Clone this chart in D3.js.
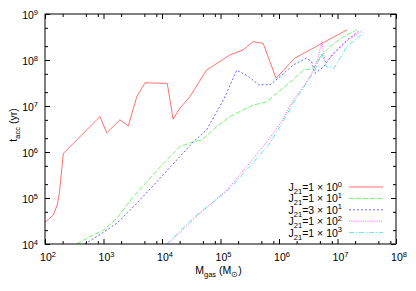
<!DOCTYPE html>
<html>
<head>
<meta charset="utf-8">
<script src="https://cdn.jsdelivr.net/npm/d3@7"></script>
<style>
  body { margin: 0; background: #fff; }
  svg { display: block; font-family: "Liberation Sans", Arial, sans-serif; }
</style>
</head>
<body>
<div id="chart"></div>
<script>
// series: gas mass (Msun) and accretion time (yr)
const red_m = [100, 139, 162, 175, 206, 871, 1135, 1905, 2655, 3715, 5130, 1.23e4, 1.55e4, 2.04e4, 3.0e4, 5.75e4, 1.45e5, 2.43e5, 3.63e5, 5.37e5, 8.9e5, 1.86e6, 3.39e6, 5.75e6, 1.45e7]
const red_t = [2.95e4, 4.3e4, 7.1e4, 1.2e5, 9.3e5, 5.9e6, 2.6e6, 5.0e6, 3.7e6, 1.6e7, 3.2e7, 3.1e7, 5.2e6, 9.1e6, 1.6e7, 6.0e7, 1.29e8, 1.66e8, 2.5e8, 2.3e8, 4.0e7, 1.1e8, 1.66e8, 2.4e8, 4.5e8]

const green_m = [347, 589, 1000, 1683, 3200, 1.05e4, 2.04e4, 3.43e4, 4.79e4, 8.6e4, 1.45e5, 3.63e5, 6.17e5, 9.1e5, 1.74e6, 2.6e6, 3.9e6, 5.4e6, 7.4e6, 1.26e7, 2.14e7]
const green_t = [1e4, 1.45e4, 2.0e4, 3.6e4, 1.05e5, 5.6e5, 1.32e6, 1.66e6, 1.82e6, 3.55e6, 5.9e6, 1.05e7, 1.23e7, 1.9e7, 3.7e7, 6.0e7, 6.6e7, 1.29e8, 1.95e8, 3.2e8, 4.5e8]

const blue_m = [479, 766, 1683, 3690, 1.05e4, 3.43e4, 5.75e4, 1.12e5, 1.9e5, 2.99e5, 4.47e5, 7.1e5, 1.05e6, 1.76e6, 2.95e6, 3.63e6, 4.1e6, 5.75e6, 8.5e6, 1.45e7, 2.29e7]
const blue_t = [1e4, 1.45e4, 2.8e4, 7.6e4, 3.2e5, 1.66e6, 3.0e6, 1.35e7, 6.0e7, 4.4e7, 2.9e7, 2.9e7, 4.4e7, 7.8e7, 1.1e8, 9.1e7, 5.1e7, 7.1e7, 1.41e8, 2.7e8, 4.2e8]

const magenta_m = [1.28e4, 3.98e4, 1.28e5, 2.95e5, 6.56e5, 1.12e6, 1.76e6, 2.6e6, 3.89e6, 4.65e6, 5.37e6, 6.1e6, 7.4e6, 1.1e7, 1.62e7, 2.63e7]
const magenta_t = [1e4, 4.1e4, 1.48e5, 5.2e5, 1.82e6, 4.7e6, 1.35e7, 2.6e7, 6.0e7, 1.1e8, 2.5e8, 9.1e7, 1.1e8, 1.82e8, 2.9e8, 4.3e8]

const cyan_m = [1.2e4, 3.8e4, 1.35e5, 3.1e5, 6.56e5, 1.12e6, 1.76e6, 2.6e6, 4.1e6, 5.37e6, 6.5e6, 8.7e6, 1.1e7, 1.44e7, 1.86e7, 2.95e7]
const cyan_t = [1e4, 4.1e4, 1.48e5, 4.7e5, 1.41e6, 4.1e6, 1.17e7, 2.45e7, 6.0e7, 1.41e8, 7.1e7, 6.6e7, 1.1e8, 1.95e8, 2.5e8, 4.2e8]

const legendMant = ['1', '1', '3', '1', '1']
const legendExp = ['0', '1', '1', '2', '3']

const xMajor = [1e2, 1e3, 1e4, 1e5, 1e6, 1e7, 1e8]
const yMajor = [1e4, 1e5, 1e6, 1e7, 1e8, 1e9]

const series = [
  { m: red_m, t: red_t, color: '#ff2020', dash: null },
  { m: green_m, t: green_t, color: '#22ee22', dash: '5,2' },
  { m: blue_m, t: blue_t, color: '#1010ff', dash: '2,2' },
  { m: magenta_m, t: magenta_t, color: '#ff00ff', dash: '1,1.3' },
  { m: cyan_m, t: cyan_t, color: '#00d8d8', dash: '5,2,1,2' }
]

const width = 416, height = 291
const margin = { top: 14, right: 20, bottom: 47, left: 45 }
const W = width - margin.left - margin.right
const H = height - margin.top - margin.bottom

const svg = d3.select('#chart').append('svg')
  .attr('width', width).attr('height', height)

const g = svg.append('g').attr('transform', `translate(${margin.left},${margin.top})`)

const x = d3.scaleLog().domain([1e2, 1e8]).range([0, W])
const y = d3.scaleLog().domain([1e4, 1e9]).range([H, 0])

// minor ticks
const xMinor = []
xMajor.slice(0, -1).forEach(d => [2, 5, 8].forEach(k => xMinor.push(d * k)))
const yMinor = []
yMajor.slice(0, -1).forEach(d => [2, 5].forEach(k => yMinor.push(d * k)))

const tickStyle = sel => {
  sel.select('.domain').remove()
  sel.selectAll('line').attr('stroke', '#000').attr('stroke-width', 1)
}

// inside ticks on all four sides
g.append('g').attr('transform', `translate(0,${H})`)
  .call(d3.axisBottom(x).tickValues(xMajor).tickSize(-5).tickFormat(''))
  .call(tickStyle)
g.append('g').attr('transform', `translate(0,${H})`)
  .call(d3.axisBottom(x).tickValues(xMinor).tickSize(-3).tickFormat(''))
  .call(tickStyle)
g.append('g')
  .call(d3.axisTop(x).tickValues(xMajor).tickSize(-5).tickFormat(''))
  .call(tickStyle)
g.append('g')
  .call(d3.axisTop(x).tickValues(xMinor).tickSize(-3).tickFormat(''))
  .call(tickStyle)
g.append('g')
  .call(d3.axisLeft(y).tickValues(yMajor).tickSize(-5).tickFormat(''))
  .call(tickStyle)
g.append('g')
  .call(d3.axisLeft(y).tickValues(yMinor).tickSize(-3).tickFormat(''))
  .call(tickStyle)
g.append('g').attr('transform', `translate(${W},0)`)
  .call(d3.axisRight(y).tickValues(yMajor).tickSize(-5).tickFormat(''))
  .call(tickStyle)
g.append('g').attr('transform', `translate(${W},0)`)
  .call(d3.axisRight(y).tickValues(yMinor).tickSize(-3).tickFormat(''))
  .call(tickStyle)

// tick labels 10^n
const pow = (sel, e) => {
  sel.append('tspan').text('10')
  sel.append('tspan').attr('font-size', 7.5).attr('dy', -4.5).text(e)
}

xMajor.forEach(d => {
  g.append('text')
    .attr('x', x(d) + 3).attr('y', H + 17)
    .attr('text-anchor', 'middle')
    .attr('font-size', 10.5).attr('fill', '#000')
    .call(pow, Math.round(Math.log10(d)))
})
yMajor.forEach(d => {
  g.append('text')
    .attr('x', -7).attr('y', y(d) + 5)
    .attr('text-anchor', 'end')
    .attr('font-size', 10.5).attr('fill', '#000')
    .call(pow, Math.round(Math.log10(d)))
})

// axis titles
const xt = svg.append('text')
  .attr('x', margin.left + W / 2 - 2).attr('y', 274)
  .attr('text-anchor', 'middle').attr('font-size', 10.5)
xt.append('tspan').text('M')
xt.append('tspan').attr('font-size', 7.5).attr('dy', 3).text('gas')
xt.append('tspan').attr('dy', -3).text(' (M')
xt.append('tspan').attr('font-size', 7.5).attr('dy', 3).text('⊙')
xt.append('tspan').attr('dy', -3).text(')')

const yt = svg.append('text')
  .attr('transform', `translate(17,${margin.top + H / 2 - 4}) rotate(-90)`)
  .attr('text-anchor', 'middle').attr('font-size', 10.5)
yt.append('tspan').text('t')
yt.append('tspan').attr('font-size', 7.5).attr('dy', 3).text('acc')
yt.append('tspan').attr('dy', -3).text(' (yr)')

// curves
const clip = svg.append('defs').append('clipPath').attr('id', 'plot-clip')
clip.append('rect').attr('width', W).attr('height', H)

const line = d3.line().x(d => x(d[0])).y(d => y(d[1]))

const curves = g.append('g').attr('clip-path', 'url(#plot-clip)')
series.forEach(s => {
  curves.append('path')
    .datum(s.m.map((m, i) => [m, s.t[i]]))
    .attr('d', line)
    .attr('fill', 'none')
    .attr('stroke', s.color)
    .attr('stroke-width', 0.8)
    .attr('stroke-opacity', 0.8)
    .attr('stroke-dasharray', s.dash)
})

// legend
const legend = g.append('g').attr('transform', `translate(0,${173})`)
series.forEach((s, i) => {
  const row = legend.append('g').attr('transform', `translate(0,${i * 11.4})`)
  row.append('line')
    .attr('x1', 304).attr('x2', 338)
    .attr('stroke', s.color).attr('stroke-width', 0.8)
    .attr('stroke-opacity', 0.8)
    .attr('stroke-dasharray', s.dash)
  const t = row.append('text')
    .attr('x', 297).attr('y', 4)
    .attr('text-anchor', 'end').attr('font-size', 10.5)
  t.append('tspan').text('J')
  t.append('tspan').attr('font-size', 7.5).attr('dy', 3).text('21')
  t.append('tspan').attr('dy', -3).text(`=${legendMant[i]} × 10`)
  t.append('tspan').attr('font-size', 7.5).attr('dy', -4.5).text(legendExp[i])
})

// frame
g.append('rect')
  .attr('width', W).attr('height', H)
  .attr('fill', 'none').attr('stroke', '#000').attr('stroke-width', 1)
</script>
</body>
</html>
